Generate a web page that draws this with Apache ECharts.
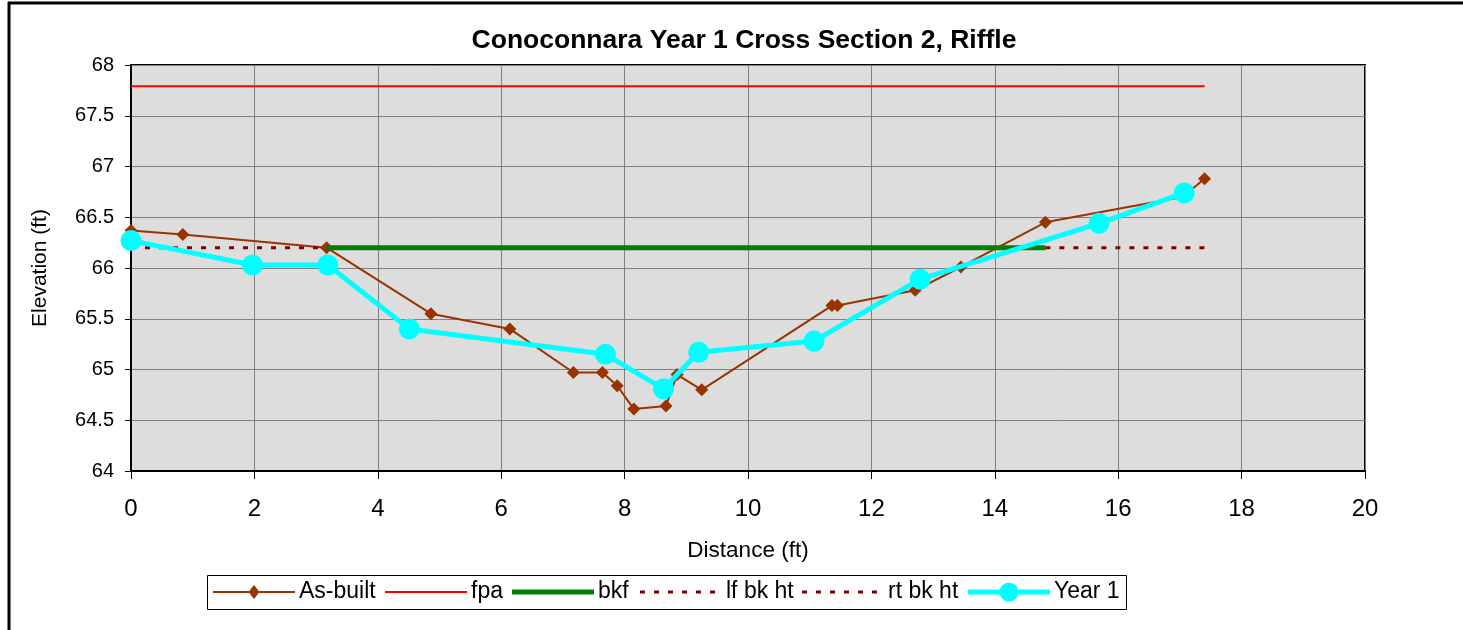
<!DOCTYPE html>
<html>
<head>
<meta charset="utf-8">
<script src="https://cdn.jsdelivr.net/npm/echarts@6/dist/echarts.min.js"></script>
<style>
  html, body { margin: 0; padding: 0; background: #fff; }
  #chart { width: 1463px; height: 630px; }
</style>
</head>
<body>
<div id="chart"></div>
<script>
// Surveyed cross-section: distance (ft) and elevation (ft)
const asBuiltX = [0, 0.84, 3.17, 4.86, 6.14, 7.17, 7.64, 7.88, 8.15, 8.67, 8.85, 9.25, 11.36, 11.45, 12.71, 13.45, 14.82, 17.04, 17.40];
const asBuiltY = [66.37, 66.33, 66.20, 65.55, 65.40, 64.97, 64.97, 64.84, 64.61, 64.64, 64.95, 64.80, 65.63, 65.63, 65.78, 66.01, 66.45, 66.70, 66.88];

const year1X = [0, 1.97, 3.19, 4.51, 7.69, 8.63, 9.20, 11.07, 12.79, 15.69, 17.07];
const year1Y = [66.27, 66.03, 66.03, 65.40, 65.15, 64.81, 65.17, 65.28, 65.89, 66.44, 66.74];

// Reference elevations and their extents
const fpaX = [0, 17.40];
const fpaY = [67.79, 67.79];
const bkfX = [3.17, 14.82];
const bkfY = [66.2, 66.2];
const lfBkX = [0, 3.17];
const lfBkY = [66.2, 66.2];
const rtBkX = [14.82, 17.40];
const rtBkY = [66.2, 66.2];

const seriesNames = ['As-built', 'fpa', 'bkf', 'lf bk ht', 'rt bk ht', 'Year 1'];

const xTicks = { min: 0, max: 20, interval: 2 };
const yTicks = { min: 64, max: 68, interval: 0.5 };

const pairs = (xs, ys) => xs.map((x, i) => [x, ys[i]]);
const FONT = "'Liberation Sans', Arial, sans-serif";

// Line styles shared between the plotted series and the legend key
const styles = {
  'As-built': { color: '#993300', width: 2, dash: null, symbol: 'diamond', size: 13 },
  'fpa':      { color: '#FF0000', width: 2, dash: null, symbol: null },
  'bkf':      { color: '#008000', width: 5, dash: null, symbol: null },
  'lf bk ht': { color: '#800000', width: 3, dash: [5, 9], symbol: null },
  'rt bk ht': { color: '#800000', width: 3, dash: [5, 9], symbol: null },
  'Year 1':   { color: '#00FFFF', width: 5, dash: null, symbol: 'circle', size: 21 }
};

function lineSeries(name, xs, ys, z) {
  const s = styles[name];
  return {
    name, type: 'line', data: pairs(xs, ys), z,
    symbol: s.symbol || 'none', symbolSize: s.size || 0, showAllSymbol: true,
    lineStyle: { color: s.color, width: s.width, type: s.dash || 'solid' },
    itemStyle: { color: s.color }
  };
}

// Legend key drawn as a boxed row beneath the plot
const legendBox = { x: 207, y: 575, w: 919, h: 34 };
const legendSlots = [213, 385, 512, 640, 802, 968];
const keyLen = 82, textGap = 4;

function legendGraphics() {
  const cy = legendBox.y + legendBox.h / 2;
  const els = [{
    type: 'rect', z: 50,
    shape: { x: legendBox.x + 0.5, y: legendBox.y + 0.5, width: legendBox.w, height: legendBox.h },
    style: { fill: '#fff', stroke: '#000', lineWidth: 1 }
  }];
  seriesNames.forEach((name, i) => {
    const s = styles[name];
    const x0 = legendSlots[i];
    els.push({
      type: 'line', z: 51,
      shape: { x1: x0, y1: cy, x2: x0 + keyLen, y2: cy },
      style: { stroke: s.color, lineWidth: s.width, lineDash: s.dash || null }
    });
    if (s.symbol === 'diamond') {
      const r = 7;
      els.push({
        type: 'polygon', z: 52,
        shape: { points: [[x0 + keyLen / 2, cy - r], [x0 + keyLen / 2 + 5.5, cy], [x0 + keyLen / 2, cy + r], [x0 + keyLen / 2 - 5.5, cy]] },
        style: { fill: s.color }
      });
    } else if (s.symbol === 'circle') {
      els.push({
        type: 'circle', z: 52,
        shape: { cx: x0 + keyLen / 2, cy, r: 9.5 },
        style: { fill: s.color }
      });
    }
    els.push({
      type: 'text', z: 52,
      x: x0 + keyLen + textGap, y: cy,
      style: { text: name, font: "23px 'Liberation Sans', Arial, sans-serif", fill: '#000', verticalAlign: 'middle', align: 'left' }
    });
  });
  return els;
}

const chart = echarts.init(document.getElementById('chart'), null, { renderer: 'canvas' });

chart.setOption({
  backgroundColor: '#ffffff',
  animation: false,
  title: {
    text: 'Conoconnara Year 1 Cross Section 2, Riffle',
    left: 739, textAlign: 'center',
    top: 22,
    textStyle: { fontFamily: FONT, fontSize: 26.5, fontWeight: 'bold', color: '#000' }
  },
  grid: {
    left: 131, right: 98, top: 65, bottom: 159,
    show: true,
    backgroundColor: '#DDDDDD',
    borderColor: '#000', borderWidth: 2
  },
  xAxis: {
    type: 'value',
    min: xTicks.min, max: xTicks.max, interval: xTicks.interval,
    name: 'Distance (ft)', nameLocation: 'middle', nameGap: 68,
    nameTextStyle: { fontFamily: FONT, fontSize: 22.5, color: '#000' },
    axisLine: { show: true, onZero: false, lineStyle: { color: '#000', width: 2 } },
    axisTick: { show: true, length: 8, lineStyle: { color: '#000', width: 1 } },
    axisLabel: { fontFamily: FONT, fontSize: 24, color: '#000', margin: 26 },
    splitLine: { show: true, lineStyle: { color: '#808080', width: 1 } }
  },
  yAxis: {
    type: 'value',
    min: yTicks.min, max: yTicks.max, interval: yTicks.interval,
    name: 'Elevation (ft)', nameLocation: 'middle', nameGap: 80,
    nameTextStyle: { fontFamily: FONT, fontSize: 21, color: '#000' },
    axisLine: { show: true, onZero: false, lineStyle: { color: '#000', width: 2 } },
    axisTick: { show: true, length: 6, lineStyle: { color: '#000', width: 1 } },
    axisLabel: { fontFamily: FONT, fontSize: 20, color: '#000', margin: 17 },
    splitLine: { show: true, lineStyle: { color: '#808080', width: 1 } }
  },
  series: [
    lineSeries('As-built', asBuiltX, asBuiltY, 2),
    lineSeries('fpa', fpaX, fpaY, 3),
    lineSeries('bkf', bkfX, bkfY, 4),
    lineSeries('lf bk ht', lfBkX, lfBkY, 4),
    lineSeries('rt bk ht', rtBkX, rtBkY, 4),
    lineSeries('Year 1', year1X, year1Y, 5)
  ],
  graphic: [
    // outer frame edges
    { type: 'line', shape: { x1: 8, y1: 3, x2: 1463, y2: 3 }, style: { stroke: '#000', lineWidth: 3 }, z: 100 },
    { type: 'line', shape: { x1: 9, y1: 2, x2: 9, y2: 630 }, style: { stroke: '#000', lineWidth: 3 }, z: 100 }
  ].concat(legendGraphics())
});
</script>
</body>
</html>
